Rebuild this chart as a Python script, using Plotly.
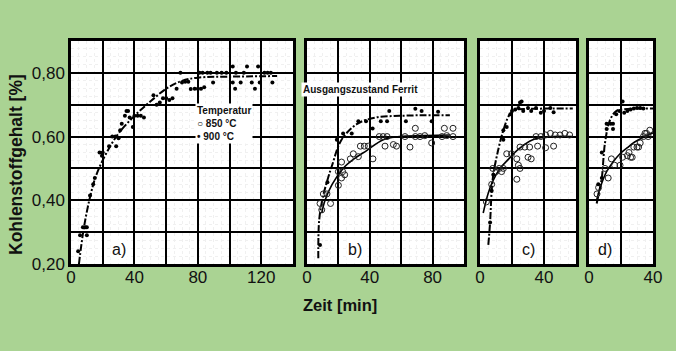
import plotly.graph_objects as go

# ---------------- data ----------------
# Panel a) 900 °C points
a900_x = [4.5, 5.7, 7.5, 9, 10, 10, 12, 14, 15, 18, 20, 19.5, 24, 26, 28, 28.5, 30, 31, 32, 34, 35, 36, 37, 39, 40, 42, 44, 46,
          52, 54, 56, 58, 60, 62, 64, 66.6, 69, 70, 72, 74, 75.5, 78, 80, 82, 81, 83, 86, 84, 88, 89.6, 92, 95, 98,
          102, 102, 103.5, 107, 104, 109, 111, 114, 116, 118, 119, 122, 124, 126, 127]
a900_y = [0.24, 0.29, 0.315, 0.315, 0.29, 0.315, 0.415, 0.45, 0.47, 0.55, 0.55, 0.54, 0.57, 0.60, 0.60, 0.57, 0.595, 0.62, 0.64, 0.665, 0.68, 0.68, 0.66, 0.63, 0.665, 0.665, 0.665, 0.66,
          0.73, 0.70, 0.707, 0.72, 0.72, 0.715, 0.72, 0.75, 0.80, 0.77, 0.772, 0.772, 0.749, 0.75, 0.75, 0.75, 0.80, 0.80, 0.80, 0.755, 0.80, 0.77, 0.80, 0.80, 0.80,
          0.82, 0.77, 0.75, 0.77, 0.80, 0.80, 0.82, 0.77, 0.75, 0.82, 0.77, 0.80, 0.80, 0.80, 0.77]
a900c_x = [5, 8, 12, 16, 22, 30, 40, 50, 60, 70, 80, 100, 130]
a900c_y = [0.20, 0.31, 0.41, 0.48, 0.545, 0.61, 0.665, 0.71, 0.75, 0.775, 0.785, 0.788, 0.79]

# Panel b) Ausgangszustand Ferrit
b900_x = [8.3, 13, 19, 23, 28.5, 32.7, 37.6, 41.8, 47, 51, 52.4, 63, 69, 73, 79.4, 83.5]
b900_y = [0.26, 0.457, 0.59, 0.61, 0.61, 0.648, 0.648, 0.625, 0.648, 0.648, 0.68, 0.648, 0.687, 0.68, 0.648, 0.678]
b850_x = [8.3, 9.4, 10.4, 12.7, 15, 20, 22, 24, 20, 22.7, 22, 27.6, 29.5, 32.7, 34, 36.5, 39, 42, 46, 48.5, 51, 49.7,
          55, 57, 62.4, 65.6, 69, 69, 72, 75, 79.4, 86, 87.5, 89, 93, 93]
b850_y = [0.39, 0.37, 0.42, 0.42, 0.39, 0.447, 0.47, 0.48, 0.49, 0.49, 0.52, 0.53, 0.546, 0.537, 0.57, 0.57, 0.57, 0.53, 0.60, 0.60, 0.60, 0.57,
          0.575, 0.57, 0.60, 0.567, 0.626, 0.60, 0.60, 0.603, 0.58, 0.60, 0.626, 0.603, 0.626, 0.60]
b900c_x = [7.2, 7.8, 10.4, 13.6, 16, 22, 32, 44, 59, 75, 91]
b900c_y = [0.218, 0.34, 0.416, 0.473, 0.51, 0.59, 0.64, 0.66, 0.665, 0.667, 0.667]
b850c_x = [9.4, 11.5, 16, 23, 30, 38, 48.6, 59, 75, 91]
b850c_y = [0.36, 0.40, 0.45, 0.50, 0.53, 0.556, 0.59, 0.60, 0.603, 0.605]

# Panel c)
c900_x = [6.3, 7.3, 8.3, 14.6, 14.6, 16.7, 19, 20, 22, 24, 25, 26, 27, 30, 32, 35, 38, 40, 44, 46]
c900_y = [0.33, 0.43, 0.48, 0.59, 0.62, 0.63, 0.67, 0.68, 0.685, 0.69, 0.707, 0.71, 0.68, 0.69, 0.68, 0.69, 0.675, 0.68, 0.69, 0.676]
c850_x = [4, 7.3, 8, 10, 12, 13.5, 14.6, 16.7, 19.7, 23, 23, 24, 25, 25, 28, 30, 31, 32, 35, 36, 38, 41, 41, 44, 46, 47, 50, 53, 56]
c850_y = [0.395, 0.45, 0.50, 0.49, 0.50, 0.49, 0.50, 0.546, 0.546, 0.466, 0.53, 0.51, 0.50, 0.567, 0.567, 0.535, 0.567, 0.53, 0.60, 0.57,
          0.60, 0.605, 0.565, 0.61, 0.57, 0.605, 0.605, 0.61, 0.605]
c900c_x = [5.2, 6.3, 7.3, 8.3, 11, 14.6, 18, 20, 23, 30, 45, 58]
c900c_y = [0.26, 0.33, 0.43, 0.48, 0.55, 0.62, 0.665, 0.676, 0.685, 0.687, 0.688, 0.688]
c850c_x = [2, 5, 8, 12.5, 18, 23, 33, 45, 58]
c850c_y = [0.36, 0.42, 0.46, 0.50, 0.53, 0.556, 0.59, 0.60, 0.60]

# Panel d)
d900_x = [5.8, 8, 8, 11, 11, 13.5, 15, 15, 17, 19, 21, 22, 24, 26, 28, 30, 32, 34]
d900_y = [0.45, 0.47, 0.55, 0.64, 0.624, 0.64, 0.64, 0.624, 0.67, 0.68, 0.71, 0.675, 0.68, 0.685, 0.688, 0.69, 0.69, 0.688]
d850_x = [5, 6, 10, 12, 14, 16, 19.4, 21, 24, 25, 26, 27, 28, 30, 31, 32, 34, 35, 36, 37, 38]
d850_y = [0.42, 0.44, 0.50, 0.47, 0.53, 0.51, 0.51, 0.535, 0.54, 0.55, 0.535, 0.535, 0.567, 0.567, 0.567, 0.58, 0.60, 0.61, 0.61, 0.60, 0.62]
d900c_x = [4.8, 6.5, 8, 10, 13, 17, 22, 30, 40]
d900c_y = [0.39, 0.43, 0.47, 0.58, 0.65, 0.68, 0.686, 0.688, 0.688]
d850c_x = [4.8, 7, 11, 15, 19.4, 24, 27.7, 33, 40]
d850c_y = [0.40, 0.44, 0.49, 0.52, 0.546, 0.565, 0.58, 0.595, 0.612]

panel_labels = ["a)", "b)", "c)", "d)"]
x_ranges = [140, 100, 60, 40]
y_tickvals = [0.2, 0.3, 0.4, 0.5, 0.6, 0.7, 0.8, 0.9]
y_ticktext = ["0,20", "", "0,40", "", "0,60", "", "0,80", ""]

# ---------------- figure ----------------
W, H = 676, 351
GREEN = "#aad393"
fig = go.Figure()

panels = [
    (a900_x, a900_y, None, None, a900c_x, a900c_y, None, None),
    (b900_x, b900_y, b850_x, b850_y, b900c_x, b900c_y, b850c_x, b850c_y),
    (c900_x, c900_y, c850_x, c850_y, c900c_x, c900c_y, c850c_x, c850c_y),
    (d900_x, d900_y, d850_x, d850_y, d900c_x, d900c_y, d850c_x, d850c_y),
]
dashdot = "7px,2px,2px,2px"
for i, (px9, py9, px8, py8, cx9, cy9, cx8, cy8) in enumerate(panels):
    xa = "x" if i == 0 else f"x{i+1}"
    ya = "y" if i == 0 else f"y{i+1}"
    fig.add_trace(go.Scatter(x=cx9, y=cy9, mode="lines", line=dict(color="black", width=2, dash=dashdot, shape="spline"),
                             xaxis=xa, yaxis=ya, showlegend=False, hoverinfo="skip"))
    if cx8 is not None:
        fig.add_trace(go.Scatter(x=cx8, y=cy8, mode="lines", line=dict(color="black", width=1.6, shape="spline"),
                                 xaxis=xa, yaxis=ya, showlegend=False, hoverinfo="skip"))
        fig.add_trace(go.Scatter(x=px8, y=py8, mode="markers",
                                 marker=dict(symbol="circle-open", size=6, color="#222", line=dict(width=1)),
                                 xaxis=xa, yaxis=ya, showlegend=False))
    fig.add_trace(go.Scatter(x=px9, y=py9, mode="markers", marker=dict(symbol="circle", size=4, color="black"),
                             xaxis=xa, yaxis=ya, showlegend=False))

# panel pixel boxes
lefts = [71, 307, 480, 589]
rights = [293, 464, 576, 653]
top, bottom = 41, 264
ydom = [1 - bottom / H, 1 - top / H]
layout = dict(width=W, height=H, margin=dict(l=0, r=0, t=0, b=0, pad=0, autoexpand=False),
              paper_bgcolor=GREEN, plot_bgcolor="white",
              font=dict(family="Liberation Sans, Arial, sans-serif", color="black"))
for i in range(4):
    xr = x_ranges[i]
    tv = list(range(0, xr + 1, 20))
    tt = [str(v) if v % 40 == 0 else "" for v in tv]
    xk = "xaxis" if i == 0 else f"xaxis{i+1}"
    yk = "yaxis" if i == 0 else f"yaxis{i+1}"
    anchor_y = "y" if i == 0 else f"y{i+1}"
    anchor_x = "x" if i == 0 else f"x{i+1}"
    layout[xk] = dict(domain=[lefts[i] / W, rights[i] / W], range=[0, xr], anchor=anchor_y, automargin=False,
                      tickvals=tv, ticktext=tt, showgrid=True, gridcolor="black", gridwidth=1.6,
                      showline=True, linecolor="black", linewidth=2.5, mirror=True, ticks="", zeroline=False,
                      tickfont=dict(size=17, color="#111"), ticklabelstandoff=-4,
                      minor=dict(dtick=5, showgrid=True, gridcolor="#f0f0f0", gridwidth=1, griddash="dot"),
                      fixedrange=True)
    layout[yk] = dict(domain=ydom, range=[0.2, 0.9], anchor=anchor_x, automargin=False,
                      tickvals=y_tickvals, ticktext=y_ticktext, showticklabels=(i == 0),
                      showgrid=True, gridcolor="black", gridwidth=1.6,
                      showline=True, linecolor="black", linewidth=2.5, mirror=True, ticks="", zeroline=False,
                      tickfont=dict(size=17, color="#111"),
                      minor=dict(dtick=0.025, showgrid=True, gridcolor="#f0f0f0", gridwidth=1, griddash="dot"),
                      fixedrange=True)
fig.update_layout(**layout)

label_x = [30, 30.6, 30, 10]
for i, lab in enumerate(panel_labels):
    xa = "x" if i == 0 else f"x{i+1}"
    ya = "y" if i == 0 else f"y{i+1}"
    fig.add_annotation(x=label_x[i], y=0.244, xref=xa, yref=ya, text=lab, showarrow=False,
                       font=dict(size=16, color="#111"), bgcolor="white")

# legend box in panel a
fig.add_annotation(x=78, y=0.705, xref="x", yref="y", xanchor="left", yanchor="top",
                   text="<b>Temperatur</b><br><b>○ 850 °C</b><br><b>• 900 °C</b>", align="left",
                   showarrow=False, bgcolor="white", font=dict(size=10, color="#111"), borderpad=1)
# panel b note
fig.add_annotation(x=34, y=0.747, xref="x2", yref="y2", text="<b>Ausgangszustand Ferrit</b>",
                   showarrow=False, bgcolor="white", font=dict(size=10, color="#111"))

# axis titles
fig.add_annotation(x=16 / W, y=1 - 165 / H, xref="paper", yref="paper", xanchor="center", yanchor="middle",
                   text="<b>Kohlenstoffgehalt [%]</b>",
                   textangle=-90, showarrow=False, font=dict(size=17.5, color="#111"))
fig.add_annotation(x=340 / W, y=1 - 305 / H, xref="paper", yref="paper", xanchor="center", yanchor="middle",
                   text="<b>Zeit [min]</b>",
                   showarrow=False, font=dict(size=16.5, color="#111"))

fig.write_html("out.html")
